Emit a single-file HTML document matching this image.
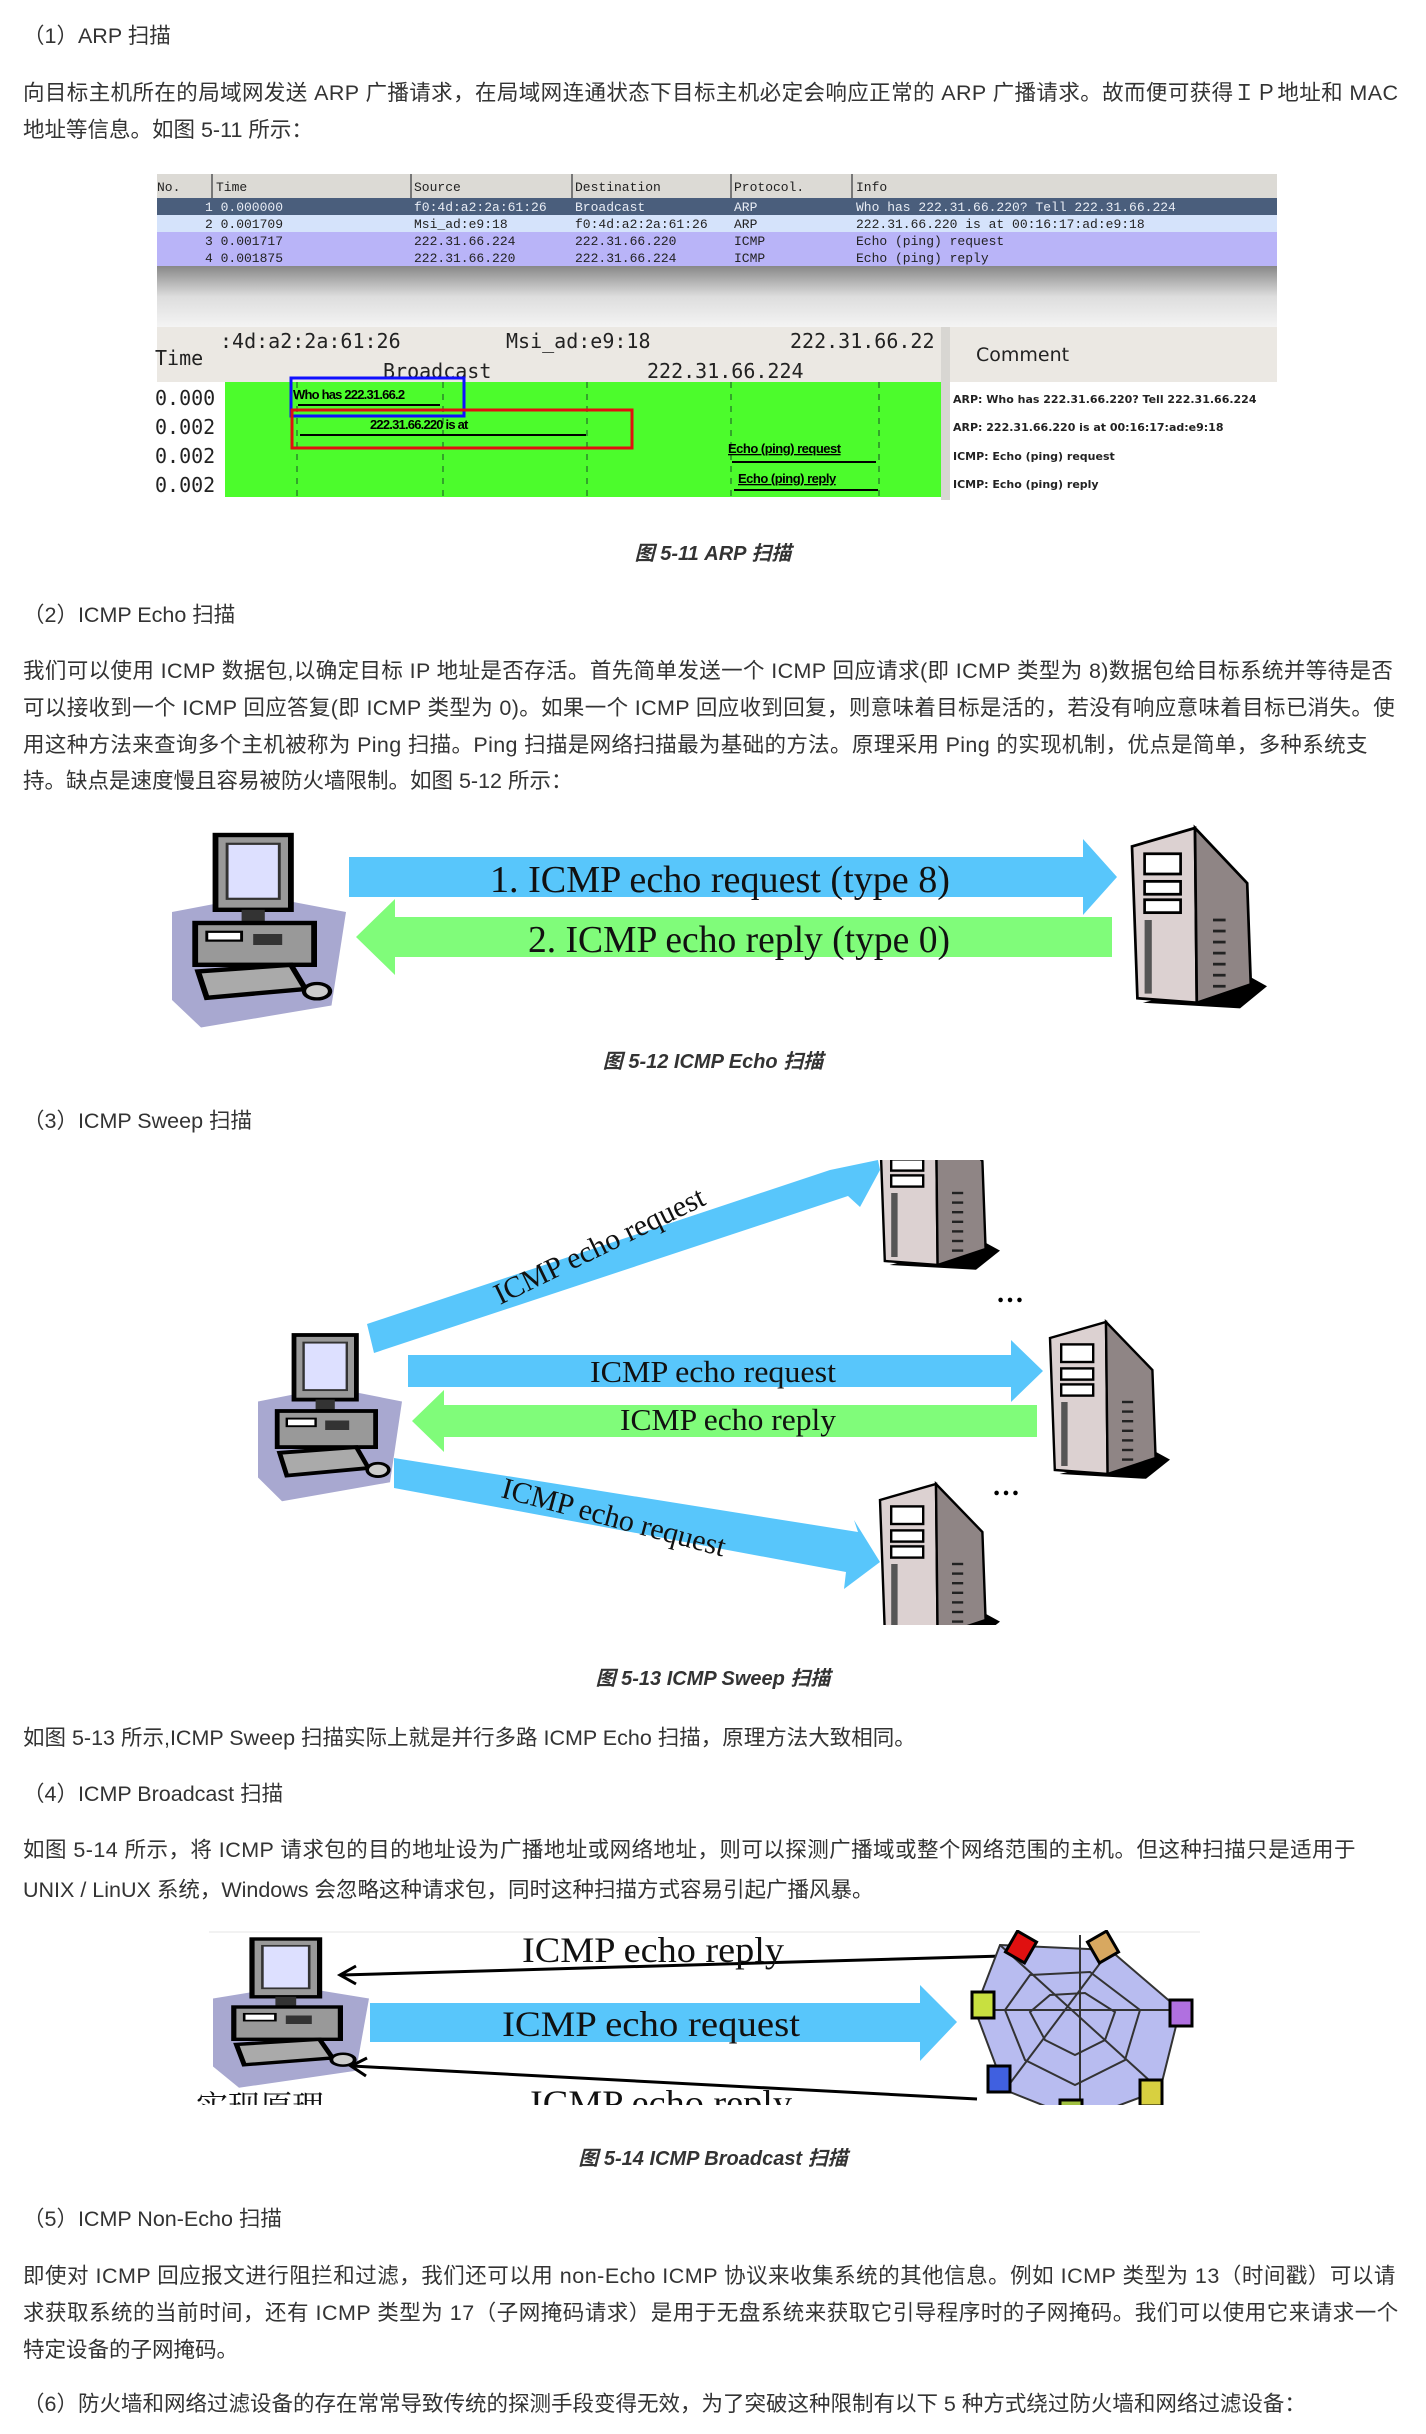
<!DOCTYPE html>
<html><head><meta charset="utf-8">
<style>
*{margin:0;padding:0}
body{width:1426px;height:2434px;position:relative;background:#fff;overflow:hidden;font-family:"Liberation Sans","Noto Sans CJK SC",sans-serif;color:#333}
.t{position:absolute;left:23px;font-size:21.5px;line-height:30px;white-space:nowrap}
.c{position:absolute;left:0;width:1426px;text-align:center;font-size:20px;font-weight:bold;font-style:italic;color:#333;line-height:30px}
svg{position:absolute;left:0;top:0}
</style></head><body>
<div class="t" style="top:21px">（1）ARP 扫描</div>
<div class="t" style="top:78px;letter-spacing:0.4px">向目标主机所在的局域网发送 ARP 广播请求，在局域网连通状态下目标主机必定会响应正常的 ARP 广播请求。故而便可获得ＩＰ地址和 MAC</div>
<div class="t" style="top:115px">地址等信息。如图 5-11 所示：</div>
<div class="c" style="top:539px">图 5-11 ARP 扫描</div>
<div class="t" style="top:600px">（2）ICMP Echo 扫描</div>
<div class="t" style="top:656px;letter-spacing:0.38px">我们可以使用 ICMP 数据包,以确定目标 IP 地址是否存活。首先简单发送一个 ICMP 回应请求(即 ICMP 类型为 8)数据包给目标系统并等待是否</div>
<div class="t" style="top:693px;letter-spacing:0.35px">可以接收到一个 ICMP 回应答复(即 ICMP 类型为 0)。如果一个 ICMP 回应收到回复，则意味着目标是活的，若没有响应意味着目标已消失。使</div>
<div class="t" style="top:730px;letter-spacing:0.35px">用这种方法来查询多个主机被称为 Ping 扫描。Ping 扫描是网络扫描最为基础的方法。原理采用 Ping 的实现机制，优点是简单，多种系统支</div>
<div class="t" style="top:766px">持。缺点是速度慢且容易被防火墙限制。如图 5-12 所示：</div>
<div class="c" style="top:1047px">图 5-12 ICMP Echo 扫描</div>
<div class="t" style="top:1106px">（3）ICMP Sweep 扫描</div>
<div class="c" style="top:1664px">图 5-13 ICMP Sweep 扫描</div>
<div class="t" style="top:1723px">如图 5-13 所示,ICMP Sweep 扫描实际上就是并行多路 ICMP Echo 扫描，原理方法大致相同。</div>
<div class="t" style="top:1779px">（4）ICMP Broadcast 扫描</div>
<div class="t" style="top:1835px;letter-spacing:0.45px">如图 5-14 所示，将 ICMP 请求包的目的地址设为广播地址或网络地址，则可以探测广播域或整个网络范围的主机。但这种扫描只是适用于</div>
<div class="t" style="top:1875px">UNIX / LinUX 系统，Windows 会忽略这种请求包，同时这种扫描方式容易引起广播风暴。</div>
<div class="c" style="top:2144px">图 5-14 ICMP Broadcast 扫描</div>
<div class="t" style="top:2204px">（5）ICMP Non-Echo 扫描</div>
<div class="t" style="top:2261px;letter-spacing:0.5px">即使对 ICMP 回应报文进行阻拦和过滤，我们还可以用 non-Echo ICMP 协议来收集系统的其他信息。例如 ICMP 类型为 13（时间戳）可以请</div>
<div class="t" style="top:2298px;letter-spacing:0.5px">求获取系统的当前时间，还有 ICMP 类型为 17（子网掩码请求）是用于无盘系统来获取它引导程序时的子网掩码。我们可以使用它来请求一个</div>
<div class="t" style="top:2335px">特定设备的子网掩码。</div>
<div class="t" style="top:2389px">（6）防火墙和网络过滤设备的存在常常导致传统的探测手段变得无效，为了突破这种限制有以下 5 种方式绕过防火墙和网络过滤设备：</div>

<svg width="1426" height="2434" viewBox="0 0 1426 2434">
<defs>
<clipPath id="c13"><rect x="150" y="1160" width="1100" height="465"/></clipPath>
<clipPath id="c14"><rect x="150" y="1930" width="1100" height="175"/></clipPath>
<linearGradient id="sh" x1="0" y1="0" x2="0" y2="1"><stop offset="0" stop-color="#888"/><stop offset="0.5" stop-color="#ddd"/><stop offset="1" stop-color="#f4f4f4"/></linearGradient>
<g id="srv">
<polygon points="12,190 120,196 150,172 128,160" fill="#000"/>
<polygon points="0,20 70,0 72,190 6,185" fill="#dcd1d1" stroke="#000" stroke-width="3"/>
<polygon points="70,0 128,60 132,170 72,190" fill="#8f8585" stroke="#000" stroke-width="3"/>
<rect x="14" y="28" width="40" height="22" fill="#fff" stroke="#000" stroke-width="3"/>
<rect x="14" y="58" width="40" height="14" fill="#fff" stroke="#000" stroke-width="3"/>
<rect x="14" y="78" width="40" height="14" fill="#fff" stroke="#000" stroke-width="3"/>
<rect x="14" y="100" width="8" height="80" fill="#555"/>
<g stroke="#222" stroke-width="3"><line x1="90" y1="100" x2="104" y2="100"/><line x1="90" y1="112" x2="104" y2="112"/><line x1="90" y1="124" x2="104" y2="124"/><line x1="90" y1="136" x2="104" y2="136"/><line x1="90" y1="148" x2="104" y2="148"/><line x1="90" y1="160" x2="104" y2="160"/><line x1="90" y1="172" x2="104" y2="172"/></g>
</g>
<g id="pc">
<polygon points="0,70 60,55 120,70 110,155 20,175 0,150" fill="#a8a8d0"/>
<rect x="30" y="0" width="52" height="68" fill="#999" stroke="#000" stroke-width="4"/>
<rect x="38" y="8" width="36" height="50" fill="#dde0ff" stroke="#333" stroke-width="2"/>
<rect x="48" y="68" width="16" height="12" fill="#333"/>
<rect x="16" y="80" width="82" height="38" fill="#999" stroke="#000" stroke-width="4"/>
<rect x="24" y="88" width="24" height="8" fill="#fff" stroke="#000" stroke-width="2"/>
<rect x="56" y="90" width="20" height="10" fill="#333"/>
<polygon points="18,124 82,118 92,140 24,148" fill="#aaa" stroke="#000" stroke-width="4"/>
<ellipse cx="100" cy="142" rx="9" ry="7" fill="#ccc" stroke="#000" stroke-width="3"/>
</g>
</defs>

<!-- Fig 5-11 -->
<rect x="157" y="174" width="1120" height="24" fill="#dcdad5"/>
<g fill="none" stroke="#777" stroke-width="2"><line x1="212" y1="174" x2="212" y2="198"/><line x1="411" y1="174" x2="411" y2="198"/><line x1="572" y1="174" x2="572" y2="198"/><line x1="731" y1="174" x2="731" y2="198"/><line x1="852" y1="174" x2="852" y2="198"/></g>
<rect x="157" y="198" width="1120" height="17" fill="#4a5e7c"/>
<rect x="157" y="215" width="1120" height="17" fill="#d5e3fb"/>
<rect x="157" y="232" width="1120" height="17" fill="#b9b4f8"/>
<rect x="157" y="249" width="1120" height="17" fill="#b9b4f8"/>
<rect x="157" y="266" width="1120" height="61" fill="url(#sh)"/>
<g font-family="Liberation Mono,monospace" font-size="13" fill="#222">
<text x="157" y="191">No.</text><text x="216" y="191">Time</text><text x="414" y="191">Source</text><text x="575" y="191">Destination</text><text x="734" y="191">Protocol.</text><text x="856" y="191">Info</text>
<g fill="#e8ecf4"><text x="205" y="211">1 0.000000</text><text x="414" y="211">f0:4d:a2:2a:61:26</text><text x="575" y="211">Broadcast</text><text x="734" y="211">ARP</text><text x="856" y="211">Who has 222.31.66.220?  Tell 222.31.66.224</text></g>
<text x="205" y="228">2 0.001709</text><text x="414" y="228">Msi_ad:e9:18</text><text x="575" y="228">f0:4d:a2:2a:61:26</text><text x="734" y="228">ARP</text><text x="856" y="228">222.31.66.220 is at 00:16:17:ad:e9:18</text>
<text x="205" y="245">3 0.001717</text><text x="414" y="245">222.31.66.224</text><text x="575" y="245">222.31.66.220</text><text x="734" y="245">ICMP</text><text x="856" y="245">Echo (ping) request</text>
<text x="205" y="262">4 0.001875</text><text x="414" y="262">222.31.66.220</text><text x="575" y="262">222.31.66.224</text><text x="734" y="262">ICMP</text><text x="856" y="262">Echo (ping) reply</text>
</g>
<rect x="157" y="327" width="1120" height="55" fill="#ebe8e3"/>
<rect x="157" y="382" width="68" height="118" fill="#fff"/>
<rect x="225" y="382" width="716" height="115" fill="#4cfc2c"/>
<rect x="941" y="327" width="9" height="173" fill="#d8d6d2"/>
<rect x="950" y="382" width="327" height="118" fill="#fff"/>
<g font-family="DejaVu Sans Mono,monospace" fill="#222">
<text x="155" y="365" font-size="20">Time</text>
<text x="220" y="348" font-size="20">:4d:a2:2a:61:26</text><text x="506" y="348" font-size="20">Msi_ad:e9:18</text><text x="790" y="348" font-size="20">222.31.66.22</text>
<text x="383" y="378" font-size="20">Broadcast</text><text x="647" y="378" font-size="20">222.31.66.224</text>
<text x="155" y="405" font-size="20">0.000</text><text x="155" y="434" font-size="20">0.002</text><text x="155" y="463" font-size="20">0.002</text><text x="155" y="492" font-size="20">0.002</text>
</g>
<text x="976" y="361" font-family="DejaVu Sans,sans-serif" font-size="19" fill="#222">Comment</text>
<g font-family="DejaVu Sans,sans-serif" font-size="11" fill="#222" font-weight="bold">
<text x="953" y="403">ARP: Who has 222.31.66.220?  Tell 222.31.66.224</text>
<text x="953" y="431">ARP: 222.31.66.220 is at 00:16:17:ad:e9:18</text>
<text x="953" y="460">ICMP: Echo (ping) request</text>
<text x="953" y="488">ICMP: Echo (ping) reply</text>
</g>
<g stroke="#2a8a2a" stroke-width="1.5" stroke-dasharray="6 6"><line x1="297" y1="382" x2="297" y2="500"/><line x1="443" y1="382" x2="443" y2="500"/><line x1="587" y1="382" x2="587" y2="500"/><line x1="731" y1="382" x2="731" y2="500"/><line x1="879" y1="382" x2="879" y2="500"/></g>
<g font-family="Liberation Sans,sans-serif" font-size="13" font-weight="bold" fill="#000">
<text x="293" y="399" letter-spacing="-0.8">Who has 222.31.66.2</text>
<text x="370" y="429" letter-spacing="-0.8">222.31.66.220 is at</text>
<text x="728" y="453" letter-spacing="-0.5" text-decoration="underline">Echo (ping) request</text>
<text x="738" y="483" letter-spacing="-0.5" text-decoration="underline">Echo (ping) reply</text>
</g>
<g stroke="#000" stroke-width="2"><line x1="298" y1="405" x2="440" y2="405"/><line x1="300" y1="435" x2="586" y2="435"/><line x1="732" y1="462" x2="876" y2="462"/><line x1="734" y1="490" x2="878" y2="490"/></g>
<rect x="291" y="378" width="173" height="38" fill="none" stroke="#1010ff" stroke-width="3"/>
<rect x="292" y="410" width="340" height="38" fill="none" stroke="#e01010" stroke-width="3"/>

<!-- Fig 5-12 -->
<use href="#pc" transform="translate(172,835) scale(1.45,1.1)"/>
<polygon points="349,857 1083,857 1083,839 1117,877 1083,915 1083,897 349,897" fill="#58c6fb"/>
<polygon points="1112,917 395,917 395,899 356,937 395,975 395,957 1112,957" fill="#80fc7a"/>
<g font-family="Liberation Serif,serif" font-size="38" fill="#111">
<text x="490" y="892" textLength="460" lengthAdjust="spacingAndGlyphs">1. ICMP echo request (type 8)</text>
<text x="528" y="952" textLength="422" lengthAdjust="spacingAndGlyphs">2. ICMP echo reply (type 0)</text>
</g>
<use href="#srv" transform="translate(1132,828) scale(0.9,0.92)"/>

<!-- Fig 5-13 -->
<g clip-path="url(#c13)">
<polygon points="367,1324 830,1170 878,1160 880,1170 860,1207 848,1196 374,1353" fill="#58c6fb"/>
<text font-family="Liberation Serif,serif" font-size="30" fill="#111" transform="translate(500,1305) rotate(-26)">ICMP echo request</text>
<use href="#srv" transform="translate(880,1113) scale(0.8,0.8)"/>
<text x="996" y="1302" font-family="Liberation Serif,serif" font-size="28" font-weight="bold" fill="#000">…</text>
<use href="#pc" transform="translate(258,1335) scale(1.2,0.95)"/>
<polygon points="408,1355 1011,1355 1011,1340 1043,1371 1011,1402 1011,1387 408,1387" fill="#58c6fb"/>
<polygon points="1037,1405 444,1405 444,1390 412,1421 444,1452 444,1437 1037,1437" fill="#80fc7a"/>
<g font-family="Liberation Serif,serif" font-size="31" fill="#111">
<text x="590" y="1382" textLength="246" lengthAdjust="spacingAndGlyphs">ICMP echo request</text>
<text x="620" y="1430" textLength="216" lengthAdjust="spacingAndGlyphs">ICMP echo reply</text>
</g>
<use href="#srv" transform="translate(1050,1322) scale(0.8,0.8)"/>
<polygon points="394,1458 858,1532 854,1520 880,1562 844,1589 846,1572 394,1488" fill="#58c6fb"/>
<text font-family="Liberation Serif,serif" font-size="30" fill="#111" transform="translate(500,1497) rotate(15)">ICMP echo request</text>
<text x="992" y="1495" font-family="Liberation Serif,serif" font-size="28" font-weight="bold" fill="#000">…</text>
<use href="#srv" transform="translate(880,1484) scale(0.8,0.8)"/>
</g>

<!-- Fig 5-14 -->
<g clip-path="url(#c14)">
<line x1="209" y1="1932" x2="1200" y2="1932" stroke="#f2f2f2" stroke-width="2"/>
<use href="#pc" transform="translate(213,1939) scale(1.3,0.85)"/>
<line x1="1003" y1="1956" x2="342" y2="1975" stroke="#000" stroke-width="3"/>
<polyline points="356,1966 340,1975 356,1984" fill="none" stroke="#000" stroke-width="3"/>
<polygon points="370,2003 920,2003 920,1985 957,2022 920,2061 920,2042 370,2042" fill="#58c6fb"/>
<line x1="977" y1="2099" x2="352" y2="2066" stroke="#000" stroke-width="3"/>
<polyline points="367,2058 351,2066 366,2076" fill="none" stroke="#000" stroke-width="3"/>
<g font-family="Liberation Serif,serif" font-size="36" fill="#111">
<text x="522" y="1962" textLength="262" lengthAdjust="spacingAndGlyphs">ICMP echo reply</text>
<text x="502" y="2036" textLength="298" lengthAdjust="spacingAndGlyphs">ICMP echo request</text>
<text x="530" y="2115" textLength="262" lengthAdjust="spacingAndGlyphs">ICMP echo reply</text>
</g>
<text x="196" y="2118" font-family="Noto Serif CJK SC,serif" font-size="32" fill="#111">实现原理</text>
<polygon points="1000,1945 1110,1950 1180,2010 1160,2090 1080,2120 1005,2090 975,2010" fill="#b8bcf0" stroke="#333" stroke-width="2"/>
<g stroke="#333" stroke-width="2"><line x1="1000" y1="1945" x2="1160" y2="2090"/><line x1="1110" y1="1950" x2="1005" y2="2090"/><line x1="975" y1="2010" x2="1180" y2="2010"/><line x1="1080" y1="1935" x2="1080" y2="2120"/>
<polygon points="1030,1975 1090,1972 1140,2010 1125,2060 1075,2085 1025,2060 1005,2010" fill="none"/>
<polygon points="1050,1995 1085,1993 1115,2012 1105,2040 1075,2055 1045,2040 1030,2012" fill="none"/></g>
<rect x="1010" y="1935" width="22" height="24" fill="#e01010" stroke="#000" stroke-width="3" transform="rotate(30 1021 1947)"/>
<rect x="1092" y="1935" width="22" height="24" fill="#d8a860" stroke="#000" stroke-width="3" transform="rotate(-30 1103 1947)"/>
<rect x="972" y="1992" width="22" height="26" fill="#c8e040" stroke="#000" stroke-width="3"/>
<rect x="1170" y="2000" width="22" height="26" fill="#b070e0" stroke="#000" stroke-width="3"/>
<rect x="988" y="2066" width="22" height="26" fill="#4060e0" stroke="#000" stroke-width="3"/>
<rect x="1140" y="2080" width="22" height="26" fill="#d8d040" stroke="#000" stroke-width="3"/>
<rect x="1060" y="2100" width="22" height="20" fill="#a0c040" stroke="#000" stroke-width="3"/>
</g>
</svg>
</body></html>
